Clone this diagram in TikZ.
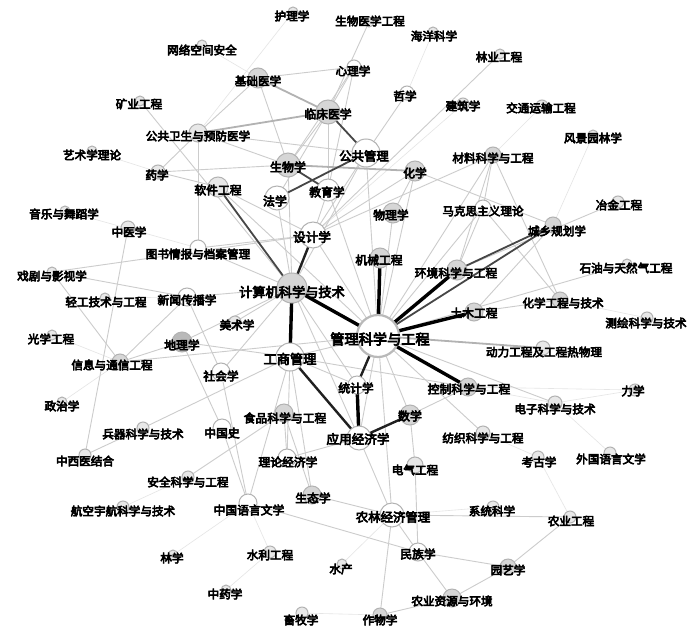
\documentclass[tikz,border=0pt]{standalone}
\usepackage{fontspec}
\newfontfamily\cjk[FakeBold=5]{Noto Sans CJK SC}
\usetikzlibrary{backgrounds}
\colorlet{fw}{white}
\colorlet{fl}{gray!18}
\colorlet{fm}{gray!32}
\colorlet{fd}{gray!55}
\tikzset{
  x=1pt, y=-1pt,
  vtx/.style={circle, inner sep=0pt, draw=gray!60, line width=1pt},
  lbl/.style={inner sep=0pt, text=black},
  eK/.style={draw=black, line width=3.4pt},
  eD/.style={draw=gray!25!black, line width=2.4pt},
  eG/.style={draw=gray!55!black, line width=1.8pt},
  eM/.style={draw=gray!60, line width=1.8pt},
  eL/.style={draw=gray!40, line width=0.9pt},
  eV/.style={draw=gray!20, line width=0.6pt},
}
\newcommand\ND[9]{%
  \node[vtx, minimum size=#4*2pt, fill=#5] (#1) at (#2,#3) {};
  \node[lbl, font=\cjk\fontsize{#8}{#8}\selectfont] (#1-t) at (#6,#7) {#9};}
\begin{document}
\begin{tikzpicture}
\useasboundingbox (0,0) rectangle (700,634);
% nodes: name, cx, cy, r, fill, lx, ly, size, text
\ND{hl}{293}{12}{5}{fl}{292}{16}{11.6}{护理学}
\ND{swyx}{369}{22}{5}{fl}{370}{21}{11.6}{生物医学工程}
\ND{hy}{433}{32}{5}{fl}{434}{36}{11.6}{海洋科学}
\ND{wl}{202}{45}{5}{fl}{202}{50}{11.6}{网络空间安全}
\ND{lygc}{500}{54}{5}{fl}{499}{57}{11.6}{林业工程}
\ND{xl}{354}{67}{7}{fw}{353}{71}{11.6}{心理学}
\ND{jc}{258}{78}{10}{fm}{258}{81}{11.6}{基础医学}
\ND{zx}{407}{93}{7}{fw}{405}{96}{11.6}{哲学}
\ND{ky}{140}{101}{5}{fl}{139}{104}{11.6}{矿业工程}
\ND{jz}{463}{104}{6}{fl}{463}{106}{11.6}{建筑学}
\ND{jt}{542}{106}{6}{fl}{541}{108}{11.6}{交通运输工程}
\ND{lc}{328}{112}{12}{fm}{328}{114}{11.8}{临床医学}
\ND{gw}{198}{133}{9}{fl}{198}{136}{11.6}{公共卫生与预防医学}
\ND{fj}{593}{135}{5}{fl}{593}{138}{11.6}{风景园林学}
\ND{ys}{92}{151}{5}{fl}{92}{155}{11.6}{艺术学理论}
\ND{gg}{366}{153}{14}{fw}{364}{156}{12.4}{公共管理}
\ND{cl}{493}{155}{8}{fm}{493}{158}{11.6}{材料科学与工程}
\ND{yx}{158}{172}{7}{fl}{157}{175}{11.6}{药学}
\ND{sw}{288}{165}{12}{fm}{288}{167}{12}{生物学}
\ND{hx}{415}{171}{10}{fm}{415}{173}{11.8}{化学}
\ND{rj}{218}{187}{10}{fl}{218}{190}{11.8}{软件工程}
\ND{jy}{328}{190}{11}{fw}{327}{192}{11.8}{教育学}
\ND{fx}{277}{198}{12}{fw}{275}{201}{12}{法学}
\ND{wlx}{393}{213}{10}{fm}{391}{215}{11.8}{物理学}
\ND{mk}{483}{208}{8}{fw}{483}{211}{11.6}{马克思主义理论}
\ND{yj}{618}{202}{6}{fl}{619}{205}{11.6}{冶金工程}
\ND{yy}{65}{211}{5}{fl}{64}{214}{11.6}{音乐与舞蹈学}
\ND{zy}{128}{228}{7}{fl}{129}{232}{11.6}{中医学}
\ND{sj}{313}{235}{13}{fw}{312}{237}{12.6}{设计学}
\ND{cx}{553}{225}{8}{fm}{557}{231}{11.6}{城乡规划学}
\ND{ts}{198}{248}{8}{fw}{198}{254}{11.6}{图书情报与档案管理}
\ND{jx}{380}{258}{10}{fm}{379}{260}{11.8}{机械工程}
\ND{xj}{52}{272}{5}{fl}{52}{276}{11.6}{戏剧与影视学}
\ND{sy}{627}{264}{5}{fl}{626}{268}{11.6}{石油与天然气工程}
\ND{hj}{457}{270}{10}{fm}{456}{273}{11.8}{环境科学与工程}
\ND{js}{292}{288}{15}{fm}{292}{292}{13.2}{计算机科学与技术}
\ND{qg}{105}{298}{5}{fl}{106}{302}{11.6}{轻工技术与工程}
\ND{xw}{187}{297}{9}{fw}{187}{300}{11.8}{新闻传播学}
\ND{hg}{560}{300}{8}{fm}{563}{303}{11.6}{化学工程与技术}
\ND{gx}{52}{335}{5}{fl}{51}{339}{11.6}{光学工程}
\ND{tm}{474}{312}{9}{fm}{474}{313}{11.8}{土木工程}
\ND{ch}{647}{318}{6}{fl}{646}{323}{11.6}{测绘科学与技术}
\ND{ms}{235}{322}{6}{fl}{237}{325}{11.6}{美术学}
\ND{dl}{182}{342}{10}{fd}{182}{345}{11.8}{地理学}
\ND{dlg}{543}{348}{7}{fl}{544}{352}{11.6}{动力工程及工程热物理}
\ND{gs}{290}{357}{14}{fw}{290}{359}{13.2}{工商管理}
\ND{xx}{120}{362}{8}{fm}{112}{365}{11.6}{信息与通信工程}
\ND{sh}{221}{372}{9}{fw}{221}{376}{11.8}{社会学}
\ND{tj}{357}{385}{9}{fw}{356}{388}{11.8}{统计学}
\ND{kz}{468}{387}{9}{fm}{469}{389}{11.8}{控制科学与工程}
\ND{lx}{635}{390}{6}{fl}{633}{391}{11.6}{力学}
\ND{zz}{62}{402}{5}{fl}{62}{406}{11.6}{政治学}
\ND{sp}{284}{413}{9}{fm}{285}{418}{11.8}{食品科学与工程}
\ND{sx}{410}{415}{10}{fm}{410}{416}{12}{数学}
\ND{dz}{555}{403}{7}{fl}{555}{409}{11.6}{电子科学与技术}
\ND{bq}{143}{428}{6}{fl}{143}{434}{11.6}{兵器科学与技术}
\ND{zgs}{222}{428}{9}{fw}{222}{433}{11.8}{中国史}
\ND{yyj}{359}{438}{12}{fw}{358}{439}{12.6}{应用经济学}
\ND{fz}{483}{433}{7}{fl}{483}{438}{11.6}{纺织科学与工程}
\ND{ll}{287}{458}{9}{fw}{288}{462}{11.8}{理论经济学}
\ND{zxy}{85}{455}{6}{fl}{85}{461}{11.6}{中西医结合}
\ND{kg}{538}{457}{6}{fl}{539}{462}{11.6}{考古学}
\ND{wg}{610}{453}{6}{fl}{611}{459}{11.6}{外国语言文学}
\ND{dq}{415}{465}{8}{fl}{415}{470}{11.6}{电气工程}
\ND{aq}{188}{477}{6}{fl}{188}{482}{11.6}{安全科学与工程}
\ND{st}{312}{495}{9}{fm}{313}{498}{11.8}{生态学}
\ND{hk}{123}{507}{6}{fl}{123}{511}{11.6}{航空宇航科学与技术}
\ND{zgy}{248}{503}{9}{fw}{249}{510}{11.8}{中国语言文学}
\ND{xt}{493}{507}{6}{fl}{492}{511}{11.6}{系统科学}
\ND{nl}{392}{515}{12}{fw}{393}{517}{12.4}{农林经济管理}
\ND{ny}{570}{517}{6}{fl}{571}{521}{11.6}{农业工程}
\ND{lxue}{173}{555}{5}{fl}{172}{558}{11.6}{林学}
\ND{sl}{270}{552}{6}{fl}{270}{555}{11.6}{水利工程}
\ND{mz}{418}{552}{9}{fw}{418}{554}{11.8}{民族学}
\ND{sc}{342}{564}{5}{fl}{341}{569}{11.6}{水产}
\ND{yyx}{508}{567}{8}{fm}{508}{570}{11.6}{园艺学}
\ND{zyx}{226}{590}{5}{fl}{225}{594}{11.6}{中药学}
\ND{nz}{452}{598}{9}{fm}{452}{601}{11.6}{农业资源与环境}
\ND{xm}{302}{613}{6}{fl}{301}{620}{11.6}{畜牧学}
\ND{zw}{380}{615}{7}{fm}{380}{620}{11.6}{作物学}
\node[vtx, minimum size=42pt, fill=white, line width=2.2pt, draw=gray!55] (gl) at (378,336) {};
\node[lbl, font=\cjk\fontsize{14.2}{14.2}\selectfont] (gl-t) at (380,339) {管理科学与工程};
\begin{pgfonlayer}{background}
\fill[white] (0,0) rectangle (700,634);
\foreach \a/\b in {hl/gw, ys/yx, yy/ts, qg/xw, gx/xx, zz/xx, kg/fz, wg/dz, lx/dz, ch/hg, fj/cx, jt/cl, hy/zx, jz/sj, xt/nl, sl/zgy, lxue/zgy, zyx/sl, xm/zw, sc/nl, aq/hk, wl/jc, kg/ny, dz/kz, lx/kz}
  \draw[eV] (\a.center) -- (\b.center);
\foreach \a/\b in {jc/gw, jc/sw, jc/xl, xl/lc, xl/sw, xl/jy, swyx/lc, zx/gg, lygc/sj, gw/ts, gw/yx, yx/sw, gw/gg, ky/js, rj/gl, sw/js, lc/sw, lc/fx, lc/jy, gg/sj, gg/js, gg/gl, hx/wlx, hx/sj, cl/hj, cl/gl, cl/hg, cl/mk, cl/sj, mk/gl, mk/hg, mk/hj, cx/tm, sy/gl, yj/hj, hg/tm, zy/zxy, xj/xx, xj/xw, xj/sj, ts/js, ts/sj, xw/js, xw/xx, xw/sh, dl/gs, dl/zgs, xx/gl, xx/dl, zxy/bq, bq/gs, zgs/zgy, sh/zgy, sp/aq, zgy/gs, sp/ll, ll/yyj, ll/gs, st/nl, st/gs, st/sp, zgy/mz, nl/ny, nl/mz, nl/zw, mz/yyx, mz/nz, yyx/ny, yyx/nz, nz/zw, dq/mz, sx/dq, fz/gl, gs/kz, gs/gl, js/tj, js/yyj, sj/gl, jy/sj, fx/js, wlx/gl, gl/sx, gl/yyj, gl/dz, sh/js, hx/cx, ms/js, gw/sw, rj/sj, jy/gl, hx/gl, gs/tj, sx/kz, nl/yyj, gl/nl, dl/js, rj/yx}
  \draw[eL] (\a.center) -- (\b.center);
\foreach \a/\b in {jc/lc, gw/lc, sw/hx, gl/dlg}
  \draw[eM] (\a.center) -- (\b.center);
\foreach \a/\b in {rj/js, lc/gg, fx/gg, sw/jy, cx/gl, cx/hj}
  \draw[eG] (\a.center) -- (\b.center);
\foreach \a/\b in {js/sj, yyj/sx, gs/yyj, gl/tj}
  \draw[eD] (\a.center) -- (\b.center);
\foreach \a/\b in {gl/js, gl/jx, gl/hj, gl/tm, gl/kz, js/gs, tj/yyj}
  \draw[eK] (\a.center) -- (\b.center);
\end{pgfonlayer}
\end{tikzpicture}
\end{document}
